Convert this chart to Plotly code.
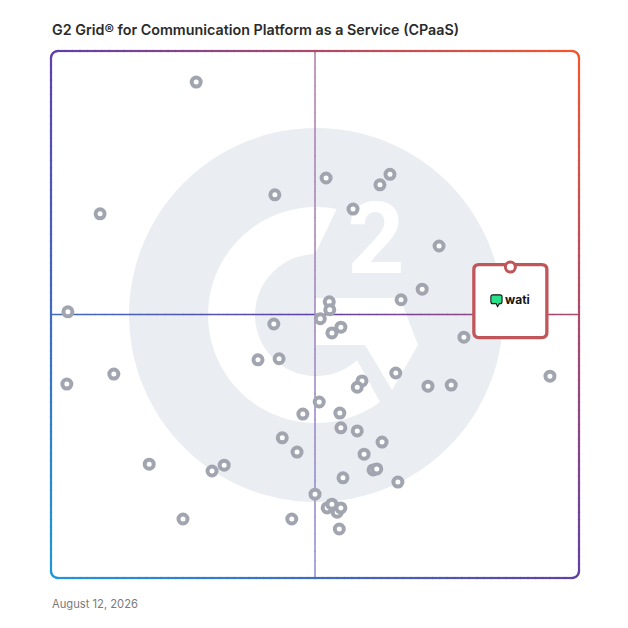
import math
import numpy as np
import plotly.graph_objects as go

# ---------------- data ----------------
vendor_x = [27.5, 9.3, 3.2, 42.4, 52.1, 62.3, 64.2, 57.2, 73.5, 70.3, 66.3, 52.7, 52.8,
            51.0, 54.9, 53.2, 42.2, 78.2, 3.0, 11.9, 39.2, 43.2, 47.7, 43.8, 46.6, 18.6,
            30.5, 32.8, 25.0, 45.6, 94.5, 65.3, 58.9, 58.0, 71.4, 75.8, 50.8, 54.7, 54.9,
            58.0, 62.7, 59.3, 61.0, 61.7, 55.3, 65.7, 50.0, 52.3, 53.2, 54.2, 54.9, 54.6]
vendor_y = [94.1, 69.1, 50.5, 72.7, 75.9, 74.6, 76.6, 70.0, 63.0, 54.8, 52.8, 52.4, 50.9,
            49.2, 47.6, 46.5, 48.2, 45.7, 36.8, 38.7, 41.4, 41.6, 31.1, 26.6, 23.9, 21.6,
            20.3, 21.4, 11.2, 11.2, 38.3, 38.9, 37.4, 36.2, 36.4, 36.6, 33.4, 31.3, 28.5,
            27.9, 25.8, 23.5, 20.5, 20.7, 19.0, 18.2, 15.9, 13.3, 14.0, 12.5, 13.3, 9.3]
featured_name = ["wati"]
featured_x = [87.0]
featured_y = [59.0]
title_text = "G2 Grid® for Communication Platform as a Service (CPaaS)"
date_text = "August 12, 2026"
logo_digit = ["2"]

# ---------------- styling ----------------
W_PX, H_PX = 528, 527
DOT_GRAY = "#a1a5af"
BOX_RED = "#c0565a"
LOGO_GRAY = "#eaedf1"
logo_anchor = (50.2, 49.9)

STOPS = [(0.0, (30, 152, 216)), (0.5, (96, 64, 168)), (1.0, (246, 86, 44))]


def grad(t):
    t = min(max(t, 0.0), 1.0)
    for (t0, c0), (t1, c1) in zip(STOPS[:-1], STOPS[1:]):
        if t <= t1:
            f = (t - t0) / (t1 - t0)
            return tuple(c0[i] + (c1[i] - c0[i]) * f for i in range(3))
    return STOPS[-1][1]


def rgb(c):
    return "rgb(%d,%d,%d)" % tuple(int(round(v)) for v in c)


def mix(c1, c2, f):
    return tuple(c1[i] + (c2[i] - c1[i]) * f for i in range(3))


shapes = []

# G2 watermark
shapes.append(dict(type="circle", xref="x", yref="y", xsizemode="pixel", ysizemode="pixel",
                   xanchor=logo_anchor[0], yanchor=logo_anchor[1],
                   x0=-187, x1=187, y0=-187, y1=187,
                   fillcolor=LOGO_GRAY, line=dict(width=0), layer="below"))


def arc(r, a0, a1, n):
    return [(r * math.cos(math.radians(a)), r * math.sin(math.radians(a)))
            for a in np.linspace(a0, a1, n)]


ring = arc(108, 79, 306.3, 90) + arc(61, 312.3, 91, 60)
ring_path = "M " + " L ".join("%.2f,%.2f" % p for p in ring) + " Z"
shapes.append(dict(type="path", xref="x", yref="y", xsizemode="pixel", ysizemode="pixel",
                   xanchor=logo_anchor[0], yanchor=logo_anchor[1], path=ring_path,
                   fillcolor="white", line=dict(width=0), layer="below"))
chev = [(-1, 17), (84, 17), (102, -30), (76, -75), (49, -30), (-1, -30)]
chev_path = "M " + " L ".join("%.2f,%.2f" % p for p in chev) + " Z"
shapes.append(dict(type="path", xref="x", yref="y", xsizemode="pixel", ysizemode="pixel",
                   xanchor=logo_anchor[0], yanchor=logo_anchor[1], path=chev_path,
                   fillcolor="white", line=dict(width=0), layer="below"))

# quadrant lines (gradient segments)
N = 60
for i in range(N):
    a, b = i / N, (i + 1) / N
    m = (a + b) / 2
    shapes.append(dict(type="line", xref="x", yref="y", x0=a * 100, x1=b * 100 + 0.1,
                       y0=50, y1=50, line=dict(color=rgb(grad(0.25 + m / 2)), width=1.5),
                       layer="below"))
    cv = mix((139, 139, 211), (178, 122, 166), m)
    shapes.append(dict(type="line", xref="x", yref="y", x0=50, x1=50,
                       y0=a * 100, y1=b * 100 + 0.1, line=dict(color=rgb(cv), width=1.5),
                       layer="below"))

# frame border with rounded corners and diagonal gradient
R = 7
pts = []


def seg(p0, p1, n):
    return [(p0[0] + (p1[0] - p0[0]) * k / n, p0[1] + (p1[1] - p0[1]) * k / n) for k in range(n)]


def corner(cx, cy, a0, a1, n):
    return [(cx + R * math.cos(math.radians(a)), cy + R * math.sin(math.radians(a)))
            for a in np.linspace(a0, a1, n, endpoint=False)]


pts += seg((R, H_PX), (W_PX - R, H_PX), 70)
pts += corner(W_PX - R, H_PX - R, 90, 0, 6)
pts += seg((W_PX, H_PX - R), (W_PX, R), 70)
pts += corner(W_PX - R, R, 0, -90, 6)
pts += seg((W_PX - R, 0), (R, 0), 70)
pts += corner(R, R, -90, -180, 6)
pts += seg((0, R), (0, H_PX - R), 70)
pts += corner(R, H_PX - R, 180, 90, 6)
pts.append(pts[0])
EXT = 0.6
for p0, p1 in zip(pts[:-1], pts[1:]):
    mx, my = (p0[0] + p1[0]) / 2, (p0[1] + p1[1]) / 2
    dx, dy = p1[0] - p0[0], p1[1] - p0[1]
    ln = math.hypot(dx, dy) or 1.0
    ux, uy = dx / ln * EXT, dy / ln * EXT
    t = (mx / W_PX + my / H_PX) / 2
    shapes.append(dict(type="line", xref="paper", yref="paper",
                       x0=(p0[0] - ux) / W_PX, y0=(p0[1] - uy) / H_PX,
                       x1=(p1[0] + ux) / W_PX, y1=(p1[1] + uy) / H_PX,
                       line=dict(color=rgb(grad(t)), width=2.2), layer="above"))

# featured callout box
bx0, bx1, byt, byb, br = -36.5, 36.5, 2.5, -70.5, 5
box_path = ("M %g,%g L %g,%g Q %g,%g %g,%g L %g,%g Q %g,%g %g,%g L %g,%g Q %g,%g %g,%g "
            "L %g,%g Q %g,%g %g,%g Z") % (
    bx0 + br, byt, bx1 - br, byt, bx1, byt, bx1, byt - br,
    bx1, byb + br, bx1, byb, bx1 - br, byb,
    bx0 + br, byb, bx0, byb, bx0, byb + br,
    bx0, byt - br, bx0, byt, bx0 + br, byt)
shapes.append(dict(type="path", xref="x", yref="y", xsizemode="pixel", ysizemode="pixel",
                   xanchor=featured_x[0], yanchor=featured_y[0], path=box_path,
                   fillcolor="white", line=dict(color=BOX_RED, width=3.3), layer="below"))
# chat bubble icon
ix0, ix1, iyt, iyb, ir = -19.5, -8.3, -27.8, -36.6, 2
icon_path = ("M %g,%g L %g,%g Q %g,%g %g,%g L %g,%g Q %g,%g %g,%g L %g,%g L %g,%g L %g,%g "
             "L %g,%g Q %g,%g %g,%g L %g,%g Q %g,%g %g,%g Z") % (
    ix0 + ir, iyt, ix1 - ir, iyt, ix1, iyt, ix1, iyt - ir,
    ix1, iyb + ir, ix1, iyb, ix1 - ir, iyb,
    -11.0, iyb, -12.8, -39.6, -14.2, iyb,
    ix0 + ir, iyb, ix0, iyb, ix0, iyb + ir,
    ix0, iyt - ir, ix0, iyt, ix0 + ir, iyt)
shapes.append(dict(type="path", xref="x", yref="y", xsizemode="pixel", ysizemode="pixel",
                   xanchor=featured_x[0], yanchor=featured_y[0], path=icon_path,
                   fillcolor="#27e08a", line=dict(color="#161616", width=1.1), layer="below"))

fig = go.Figure()

# watermark digit (drawn as a trace so dots sit above it)
fig.add_trace(go.Scatter(x=[logo_anchor[0] + 60 / 5.28], y=[logo_anchor[1] + 67 / 5.27],
                         mode="text", text=logo_digit,
                         textfont=dict(family="Roboto", size=100, color="white", weight="bold"),
                         hoverinfo="skip", showlegend=False))

fig.add_trace(go.Scatter(x=vendor_x, y=vendor_y, mode="markers",
                         marker=dict(symbol="circle", size=9, color="white",
                                     line=dict(color=DOT_GRAY, width=4)),
                         hoverinfo="skip", showlegend=False))

fig.add_trace(go.Scatter(x=featured_x, y=featured_y, mode="markers", text=featured_name,
                         marker=dict(symbol="circle", size=10, color="white",
                                     line=dict(color=BOX_RED, width=3)),
                         hoverinfo="skip", showlegend=False))

annotations = [
    dict(text=title_text, xref="paper", yref="paper", x=0, y=1 + (51 - 29) / 527,
         xanchor="left", yanchor="middle", showarrow=False, borderpad=0,
         font=dict(family="Inter", size=14.3, color="#2b2b2b", weight=600)),
    dict(text=date_text, xref="paper", yref="paper", x=0, y=-(604 - 578) / 527,
         xanchor="left", yanchor="middle", showarrow=False, borderpad=0,
         font=dict(family="Inter", size=11.2, color="#7a7a7a")),
    dict(text="<b>%s</b>" % featured_name[0], xref="x", yref="y", x=featured_x[0], y=featured_y[0],
         xshift=7.5, yshift=-32.5, xanchor="center", yanchor="middle", showarrow=False,
         font=dict(family="Inter", size=12, color="#151515")),
]

# the page body adds an 8px offset, so the figure is sized 612 and margins reduced by 8
fig.update_layout(
    width=612, height=612,
    margin=dict(l=43, r=41, t=43, b=42),
    paper_bgcolor="white", plot_bgcolor="white",
    xaxis=dict(range=[0, 100], visible=False, fixedrange=True),
    yaxis=dict(range=[0, 100], visible=False, fixedrange=True),
    shapes=shapes, annotations=annotations, showlegend=False,
)

fig.write_html("out.html")
